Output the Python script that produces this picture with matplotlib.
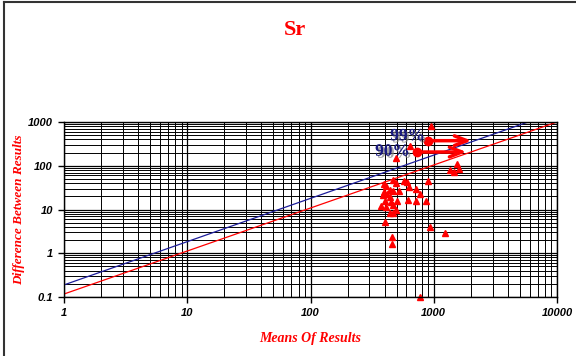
import numpy as np
import matplotlib
matplotlib.use('Agg')
import matplotlib.pyplot as plt
import matplotlib.patheffects as pe
from matplotlib.lines import Line2D
from matplotlib.ticker import LogLocator, NullFormatter, FixedLocator, FixedFormatter

# Точки: среднее результатов и разница между ними
means = [958, 641, 497, 1546, 1607, 1358, 1455, 899, 464, 570, 603, 494, 631, 394, 407,
         723, 522, 439, 467, 394, 420, 774, 387, 441, 507, 622, 723, 871, 400, 453,
         371, 407, 464, 494, 441, 464, 400, 940, 1236, 458, 458, 779]
diffs = [797, 285, 149, 112, 86, 79, 71, 46, 47, 45, 42, 40, 33, 38, 34,
         30, 27, 28, 26, 25, 23, 23, 21, 19, 15.5, 16.7, 16, 16, 15.8, 15,
         11.9, 11.7, 12.6, 10, 8.4, 8.2, 5.3, 3.9, 2.9, 2.4, 1.6, 0.1]

# Линии точности: y = a * x^b
line_90 = (0.117, 0.983)
line_99 = (0.189, 0.989)

# Подписи процентов и стрелки
pct_labels = ['99%', '90%']
pct_text_xy = [(850, 470), (640, 210)]
arrow_start = [(903, 374), (735, 206)]
arrow_end = [(2030, 374), (1850, 206)]

x_ticks = [1, 10, 100, 1000, 10000]
x_ticklabels = ['1', '10', '100', '1000', '10000']
y_ticks = [0.1, 1, 10, 100, 1000]
y_ticklabels = ['0.1', '1', '10', '100', '1000']

serif = 'Liberation Serif'
sans = 'Liberation Sans'

fig = plt.figure(figsize=(5.76, 3.56), dpi=100)
ax = fig.add_axes([64/576, 59/356, 493/576, 175/356])
ax.set_xscale('log')
ax.set_yscale('log')
ax.set_xlim(1, 10000)
ax.set_ylim(0.1, 1000)

# Сетка
ax.xaxis.set_minor_locator(LogLocator(base=10, subs=np.arange(2, 10)))
ax.yaxis.set_minor_locator(LogLocator(base=10, subs=np.arange(2, 10)))
ax.xaxis.set_minor_formatter(NullFormatter())
ax.yaxis.set_minor_formatter(NullFormatter())
ax.grid(which='major', color='black', linewidth=0.9)
ax.grid(which='minor', color='black', linewidth=0.7)
ax.set_axisbelow(True)

# Линии
xx = np.logspace(0, 4, 50)
ax.plot(xx, line_99[0] * xx ** line_99[1], color='#1c1c9a', linewidth=0.9)
ax.plot(xx, line_90[0] * xx ** line_90[1], color='red', linewidth=0.9)

# Точки
ax.plot(means, diffs, linestyle='none', marker='^', color='red', markersize=4.5, clip_on=False)

# Подписи 99% / 90% со стрелками
for lab, txy, s, e in zip(pct_labels, pct_text_xy, arrow_start, arrow_end):
    ax.text(txy[0], txy[1], lab, ha='right', va='center', fontsize=12.5, fontweight='bold',
            family=serif, color='#1a1a80',
            path_effects=[pe.withSimplePatchShadow(offset=(1.5, -1.5), shadow_rgbFace='gray', alpha=0.7)])
    ax.annotate('', xy=e, xytext=s,
                arrowprops=dict(arrowstyle='->,head_length=0.9,head_width=0.35', color='red', lw=2.5,
                                shrinkA=0, shrinkB=0))
    ax.plot(s[0], s[1], marker='o', color='red', markersize=6)

# Оси
ax.xaxis.set_major_locator(FixedLocator(x_ticks))
ax.xaxis.set_major_formatter(FixedFormatter(x_ticklabels))
ax.yaxis.set_major_locator(FixedLocator(y_ticks))
ax.yaxis.set_major_formatter(FixedFormatter(y_ticklabels))
ax.tick_params(which='major', length=4, width=1, pad=4, direction='out')
ax.tick_params(which='minor', length=0)
for lbl in ax.get_xticklabels() + ax.get_yticklabels():
    lbl.set_family(sans)
    lbl.set_fontweight('bold')
    lbl.set_fontstyle('italic')
    lbl.set_fontsize(8)
for sp in ax.spines.values():
    sp.set_linewidth(1)

ax.set_xlabel('Means Of Results', family=serif, fontweight='bold', fontstyle='italic',
              fontsize=10, color='red', labelpad=10)
ax.set_ylabel('Difference Between Results', family=serif, fontweight='bold', fontstyle='italic',
              fontsize=9.5, color='red', labelpad=2)
fig.text(295/576, 1 - 30/356, 'Sr', ha='center', va='center', family=serif,
         fontweight='bold', fontsize=16, color='red')

# Рамка рисунка (левая и верхняя стороны видны)
fig.add_artist(Line2D([4/576, 4/576], [0, 1 - 1.5/356], color='#333333', linewidth=1.5))
fig.add_artist(Line2D([4/576, 1], [1 - 1.5/356, 1 - 1.5/356], color='#333333', linewidth=1.5))

fig.savefig('out.png', dpi=100)
